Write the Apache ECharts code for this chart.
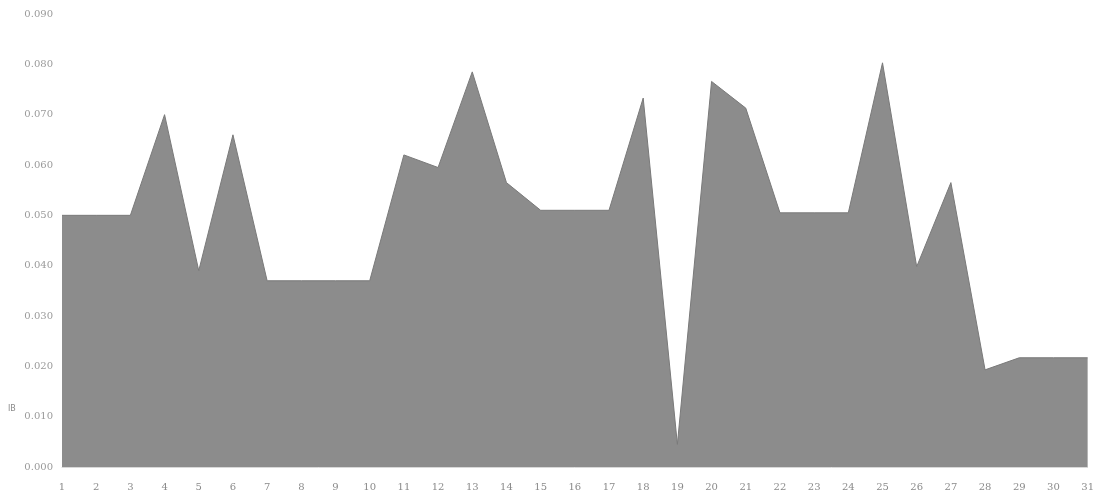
<!DOCTYPE html>
<html>
<head>
<meta charset="utf-8">
<script src="https://cdn.jsdelivr.net/npm/echarts@6/dist/echarts.min.js"></script>
<style>
html,body{margin:0;padding:0;background:#fff;}
#c{width:1097px;height:502px;}
</style>
</head>
<body>
<div id="c"></div>
<script>
const categories = ['1','2','3','4','5','6','7','8','9','10','11','12','13','14','15','16','17','18','19','20','21','22','23','24','25','26','27','28','29','30','31'];
const values = [0.050,0.050,0.050,0.070,0.039,0.066,0.037,0.037,0.037,0.037,0.062,0.0595,0.0785,0.0565,0.051,0.051,0.051,0.0733,0.0045,0.0766,0.0713,0.0505,0.0505,0.0505,0.0803,0.0398,0.0565,0.0193,0.0217,0.0217,0.0217];
const yTicks = { min: 0, max: 0.09, interval: 0.01 };
const sideLabel = 'IB';

const chart = echarts.init(document.getElementById('c'));
chart.setOption({
  animation: false,
  backgroundColor: '#ffffff',
  grid: { left: 62, right: 6, top: 14, bottom: 35 },
  xAxis: {
    type: 'category',
    data: categories,
    boundaryGap: false,
    axisLine: { show: true, lineStyle: { color: '#d8d8d8', width: 1 } },
    axisTick: { show: false },
    axisLabel: { color: '#8a8a8a', fontFamily: 'DejaVu Serif', fontSize: 10, margin: 15, interval: 0 },
    splitLine: { show: false }
  },
  yAxis: {
    type: 'value',
    min: yTicks.min, max: yTicks.max, interval: yTicks.interval,
    axisLine: { show: false },
    axisTick: { show: false },
    splitLine: { show: false },
    axisLabel: { color: '#9a9a9a', fontFamily: 'DejaVu Serif', fontSize: 10, margin: 9,
      formatter: v => v.toFixed(3) }
  },
  graphic: [{
    type: 'text', left: 8, top: 405,
    style: { text: sideLabel, fill: '#8a8a8a', font: '8px DejaVu Sans' }
  }],
  series: [{
    type: 'line',
    data: values,
    showSymbol: false,
    lineStyle: { color: '#7a7a7a', width: 1 },
    areaStyle: { color: '#8c8c8c', opacity: 1 }
  }]
});
</script>
</body>
</html>
